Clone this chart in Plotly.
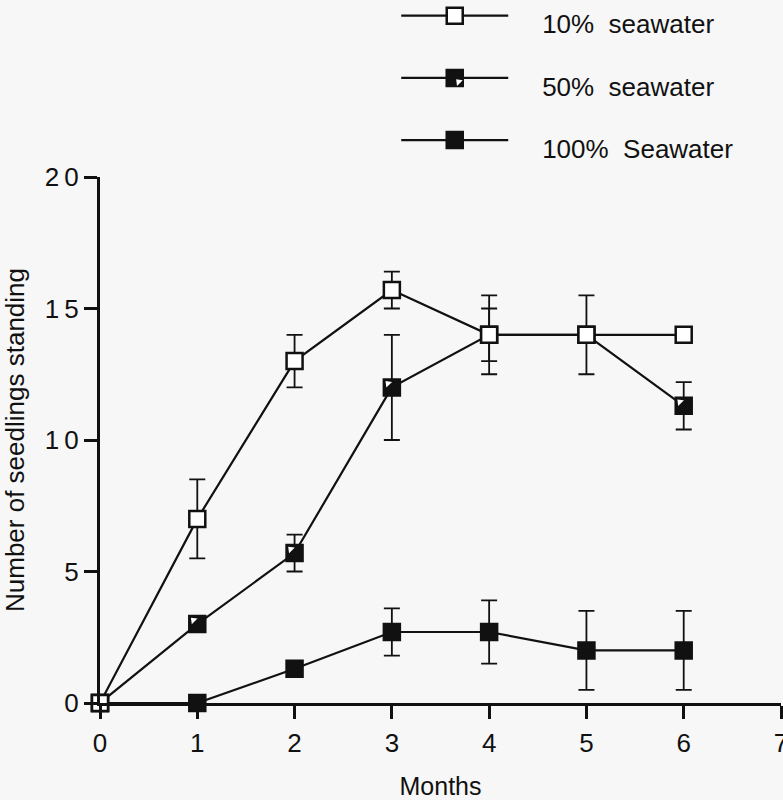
import plotly.graph_objects as go

# ---- data ----
months = [0, 1, 2, 3, 4, 5, 6]

sw10 = [0, 7.0, 13.0, 15.7, 14.0, 14.0, 14.0]
sw10_err = [0, 1.5, 1.0, 0.7, 1.5, 1.5, 0]

sw50 = [0, 3.0, 5.7, 12.0, 14.0, 14.0, 11.3]
sw50_err = [0, 0, 0.7, 2.0, 1.0, 0, 0.9]

sw100 = [0, 0, 1.3, 2.7, 2.7, 2.0, 2.0]
sw100_err = [0, 0, 0, 0.9, 1.2, 1.5, 1.5]

series_names = ["10%\u00a0\u00a0seawater", "50%\u00a0\u00a0seawater", "100%\u00a0\u00a0Seawater"]
x_tickvals = [0, 1, 2, 3, 4, 5, 6, 7]
y_tickvals = [0, 5, 10, 15, 20]
y_ticktext = ["0", "5", "1\u20090", "1\u20095", "2\u20090"]

x_title = "Months"
y_title = "Number of seedlings standing"

# ---- style ----
BLACK = "#111111"
BG = "#f7f7f7"
FONT = "Liberation Sans, Arial, Helvetica, sans-serif"
LEG_FONT = 17          # legend base font (sets the row geometry)
LEG_TEXT = 26          # visible legend text size
PAD = "\u00a0" * 4


def legend_label(text):
    # empty first line, so the symbol sits a little above the text (as in the original)
    return "\u00a0<br><span style='font-size:%dpx'>%s%s</span>" % (LEG_TEXT, PAD, text)


def err(arr):
    return dict(type="data", array=arr, symmetric=True, color=BLACK,
                thickness=1.8, width=8)


def series(y, e, name, fill, rank, group):
    return go.Scatter(
        x=months, y=y, mode="lines+markers", name=legend_label(name),
        line=dict(color=BLACK, width=2.2),
        marker=dict(symbol="square", size=16, color=fill,
                    line=dict(color=BLACK, width=2.5)),
        error_y=err(e), cliponaxis=False,
        legendrank=rank, legendgroup=group,
    )


fig = go.Figure()
fig.add_trace(series(sw100, sw100_err, series_names[2], BLACK, 3, "c"))
fig.add_trace(series(sw50, sw50_err, series_names[1], BLACK, 2, "b"))

# white corner of the half-filled 50% marker (plot + legend2 overlay)
fig.add_trace(go.Scatter(
    x=[None], y=[None], mode="lines", line=dict(width=0, color=BG),
    name="\u00a0<br>\u00a0", legend="legend2", legendgroup="a2", legendrank=1,
    hoverinfo="skip",
))
fig.add_trace(go.Scatter(
    x=months, y=sw50, mode="markers", name="\u00a0<br>\u00a0",
    marker=dict(symbol="triangle-down", size=7, color="white",
                angle=135, standoff=5.5, line=dict(width=0)),
    cliponaxis=False, hoverinfo="skip",
    legend="legend2", legendgroup="b2", legendrank=2,
))

fig.add_trace(series(sw10, sw10_err, series_names[0], "white", 1, "a"))

leg_common = dict(
    x=0.435, y=1.361, xanchor="left", yanchor="top",
    itemwidth=107, traceorder="grouped", tracegroupgap=15,
    bgcolor="rgba(0,0,0,0)", font=dict(size=LEG_FONT, family=FONT, color=BLACK),
    valign="middle", itemclick=False, itemdoubleclick=False,
)

fig.update_layout(
    width=783, height=800,
    margin=dict(l=100, r=2, t=177, b=97, autoexpand=False),
    paper_bgcolor=BG, plot_bgcolor=BG,
    font=dict(family=FONT, size=26, color=BLACK),
    showlegend=True,
    legend=leg_common,
    legend2=leg_common,
    xaxis=dict(
        range=[0, 7], tickvals=x_tickvals, showgrid=False, zeroline=False,
        showline=True, linecolor=BLACK, linewidth=3,
        ticks="outside", ticklen=13, tickwidth=2.5, tickcolor=BLACK,
        tickfont=dict(size=26), ticklabelstandoff=2, ticklabeloverflow="allow",
        fixedrange=True,
        title=dict(text=x_title, font=dict(size=25), standoff=22),
    ),
    yaxis=dict(
        range=[0, 20], tickvals=y_tickvals, ticktext=y_ticktext,
        showgrid=False, zeroline=False,
        showline=True, linecolor=BLACK, linewidth=3,
        ticks="outside", ticklen=13, tickwidth=2.5, tickcolor=BLACK,
        tickfont=dict(size=26), fixedrange=True,
        title=dict(text=y_title + "\u00a0\u00a0\u2009", font=dict(size=26), standoff=14),
    ),
)

fig.write_html("out.html")
